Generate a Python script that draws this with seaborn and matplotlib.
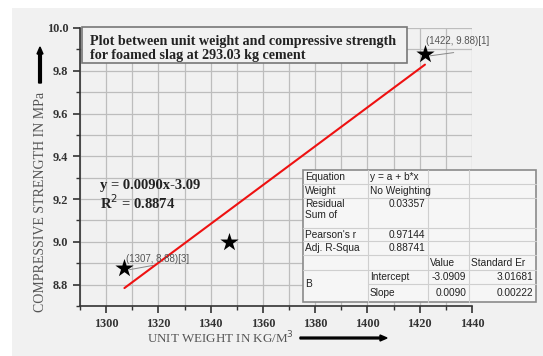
import numpy as np
import seaborn as sns
import matplotlib.pyplot as plt
from matplotlib.patches import Rectangle, FancyArrow
from matplotlib.lines import Line2D
from matplotlib.ticker import MultipleLocator

# data
unit_weight = [1307, 1347, 1422]
strength = [8.88, 9.0, 9.88]

title_text = "Plot between unit weight and compressive strength\nfor foamed slag at 293.03 kg cement"
eq_text = "y = 0.0090x-3.09"
r2_text = "R$^2$ = 0.8874"

# fit report table (Origin style)
table_rows = [
    ["Equation", "y = a + b*x", "", ""],
    ["Weight", "No Weighting", "", ""],
    ["Residual\nSum of", "0.03357", "", ""],
    ["Pearson's r", "0.97144", "", ""],
    ["Adj. R-Squa", "0.88741", "", ""],
    ["", "", "Value", "Standard Er"],
    ["B", "Intercept", "-3.0909", "3.01681"],
    ["", "Slope", "0.0090", "0.00222"],
]

W, H = 543, 356
BG = "#f1f1f1"
serif = ["Liberation Serif", "DejaVu Serif"]
sans = ["Liberation Sans", "DejaVu Sans"]


def px(x, y):
    return x / W, 1 - y / H


sns.set_style("ticks")
fig = plt.figure(figsize=(W / 100, H / 100), dpi=100)
fig.patch.set_facecolor("white")
fig.patches.append(Rectangle(px(12, H), (W - 12) / W, (H - 8) / H,
                             transform=fig.transFigure, facecolor=BG,
                             edgecolor="none", zorder=-5))

ax = fig.add_axes([80 / W, 1 - 306 / H, (472 - 80) / W, (306 - 28) / H])
ax.set_facecolor(BG)

sns.regplot(x=unit_weight, y=strength, ax=ax, ci=None, truncate=True,
            marker="*", color="black",
            scatter_kws=dict(s=190, color="black", alpha=1, zorder=4, linewidths=0),
            line_kws=dict(color="#ee1111", lw=1.5, zorder=3))

ax.set_xlim(1290, 1440)
ax.set_ylim(8.7, 10.0)
ax.set_xlabel("")
ax.set_ylabel("")
ax.xaxis.set_major_locator(MultipleLocator(20))
ax.xaxis.set_minor_locator(MultipleLocator(10))
ax.yaxis.set_major_locator(MultipleLocator(0.2))
ax.yaxis.set_minor_locator(MultipleLocator(0.1))
ax.yaxis.set_major_formatter(plt.FormatStrFormatter("%.1f"))
ax.grid(True, which="both", color="#bdbdbd", lw=0.9)
ax.set_axisbelow(True)
for s in ["top", "right"]:
    ax.spines[s].set_visible(False)
for s in ["left", "bottom"]:
    ax.spines[s].set_color("#333333")
    ax.spines[s].set_linewidth(1.2)
ax.tick_params(which="major", length=5, width=1.2, color="#333333", labelsize=8.8)
ax.tick_params(which="minor", length=3, width=1.0, color="#333333")
for lab in ax.get_xticklabels() + ax.get_yticklabels():
    lab.set_fontfamily(serif)
    lab.set_fontweight("bold")
    lab.set_color("#333333")

# point labels
ax.annotate("(1422, 9.88)[1]", xy=(1422, 9.88), xytext=(1422.5, 9.925),
            fontsize=7, family=sans, color="#555555")
ax.plot([1424, 1433], [9.87, 9.885], color="#888888", lw=0.7)
ax.annotate("(1307, 8.88)[3]", xy=(1307, 8.88), xytext=(1307.5, 8.905),
            fontsize=7, family=sans, color="#555555")
ax.plot([1309, 1318], [8.87, 8.89], color="#888888", lw=0.7)

# equation text
fig.text(*px(100, 189), eq_text, fontsize=10.5, family=serif, weight="bold", color="#222222")
fig.text(*px(100, 209), r2_text, fontsize=10.5, family=serif, weight="bold", color="#222222")

# title box
fig.patches.append(Rectangle(px(82, 63), (407 - 82) / W, (63 - 27) / H,
                             transform=fig.transFigure, facecolor=BG,
                             edgecolor="#777777", lw=1.2, zorder=5))
fig.text(*px(90, 59), title_text, fontsize=10.2, family=serif, weight="bold",
         color="#222222", linespacing=1.15, zorder=6)

# axis labels with arrows
fig.text(*px(41, 202), "COMPRESSIVE STRENGTH IN MPa", rotation=90, ha="center",
         va="center", fontsize=10, family=serif, color="#555555")
fig.patches.append(FancyArrow(*px(40, 83), 0, (83 - 47) / H, width=1.8 / H,
                              head_width=6 / W, head_length=7 / H,
                              length_includes_head=True, color="black",
                              transform=fig.transFigure))
fig.text(*px(220, 338), "UNIT WEIGHT IN KG/M$^3$", ha="center", va="center",
         fontsize=9.4, family=serif, color="#555555")
fig.patches.append(FancyArrow(*px(300, 338), (387 - 300) / W, 0, width=1.8 / H,
                              head_width=6 / H, head_length=7 / W,
                              length_includes_head=True, color="black",
                              transform=fig.transFigure))

# fit table
rows_y = [170, 184, 198, 228, 241, 255, 270, 284, 302]
cols_x = [303, 368, 428, 469, 536]
x0, y0 = px(cols_x[0], rows_y[-1])
fig.patches.append(Rectangle((x0, y0), (cols_x[-1] - cols_x[0]) / W,
                             (rows_y[-1] - rows_y[0]) / H, transform=fig.transFigure,
                             facecolor="#f6f6f6", edgecolor="#8a8a8a", lw=1.2, zorder=5))
for i, yy in enumerate(rows_y[1:-1], start=1):
    xs = cols_x[1] if i == 7 else cols_x[0]
    fig.lines.append(Line2D([xs / W, cols_x[-1] / W], [1 - yy / H] * 2,
                            transform=fig.transFigure, color="#cfcfcf", lw=0.8, zorder=6))
for xx in cols_x[1:-1]:
    fig.lines.append(Line2D([xx / W] * 2, [1 - rows_y[0] / H, 1 - rows_y[-1] / H],
                            transform=fig.transFigure, color="#cfcfcf", lw=0.8, zorder=6))
for r, row in enumerate(table_rows):
    ytop, ybot = rows_y[r], rows_y[r + 1]
    for c, txt in enumerate(row):
        if not txt:
            continue
        yc = (ytop + ybot) / 2
        va = "center"
        if r == 2:
            yc, va = ytop + 1, "top"
        if r == 6 and c == 0:
            yc = rows_y[7]
        right = (c >= 1 and txt[0].isdigit() or txt[0] == "-") and r != 0
        if right:
            xt, ha = cols_x[c + 1] - 3, "right"
        else:
            xt, ha = cols_x[c] + 2, "left"
        fig.text(xt / W, 1 - yc / H, txt, ha=ha, va=va, fontsize=7.3, family=sans,
                 color="#222222", zorder=7, linespacing=1.1)

fig.savefig("out.png", dpi=100, facecolor=fig.get_facecolor())
